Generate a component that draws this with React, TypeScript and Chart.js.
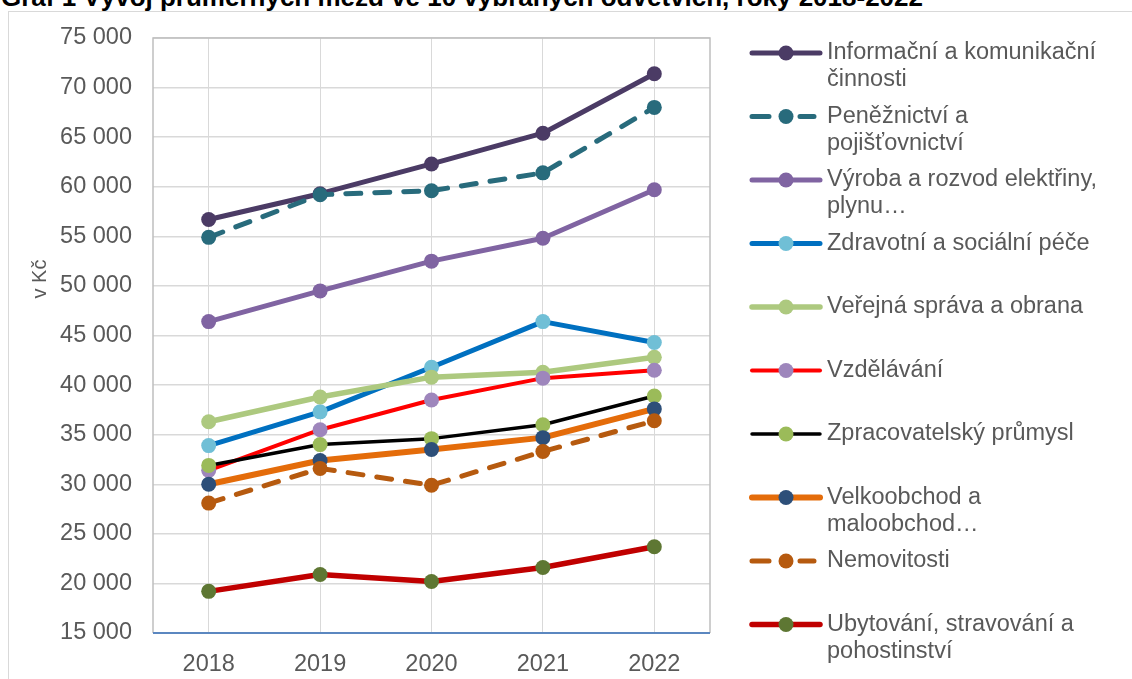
import React, { useEffect, useRef } from "react";
import { Chart, registerables } from "chart.js";

Chart.register(...registerables);

// ---------- data ----------
const years = ["2018", "2019", "2020", "2021", "2022"];

const infoKomunikace = [56700, 59300, 62300, 65400, 71400];
const penezniPojist = [54900, 59200, 59600, 61400, 68000];
const vyrobaEnergie = [46400, 49500, 52500, 54800, 59700];
const zdravotniPece = [33900, 37300, 41800, 46400, 44300];
const verejnaSprava = [36300, 38800, 40800, 41300, 42800];
const vzdelavani = [31400, 35500, 38500, 40700, 41500];
const zpracovatelsky = [31900, 34000, 34600, 36000, 38900];
const velkoobchod = [30000, 32400, 33500, 34700, 37600];
const nemovitosti = [28100, 31600, 29900, 33300, 36400];
const ubytovani = [19200, 20900, 20200, 21600, 23700];

const seriesNames: string[][] = [
  ["Informační a komunikační", "činnosti"],
  ["Peněžnictví a", "pojišťovnictví"],
  ["Výroba a rozvod elektřiny,", "plynu…"],
  ["Zdravotní a sociální péče"],
  ["Veřejná správa a obrana"],
  ["Vzdělávání"],
  ["Zpracovatelský průmysl"],
  ["Velkoobchod a", "maloobchod…"],
  ["Nemovitosti"],
  ["Ubytování, stravování a", "pohostinství"],
];

const seriesValues = [
  infoKomunikace,
  penezniPojist,
  vyrobaEnergie,
  zdravotniPece,
  verejnaSprava,
  vzdelavani,
  zpracovatelsky,
  velkoobchod,
  nemovitosti,
  ubytovani,
];

const yMin = 15000;
const yMax = 75000;
const yStep = 5000;

const chartTitle = "Graf 1 Vývoj průměrných mezd ve 10 vybraných odvětvích, roky 2018-2022";
const yAxisTitle = "v Kč";

// ---------- styles ----------
const lineColors = ["#4B3B65", "#286B7C", "#8064A2", "#0070C0", "#ADC97F", "#FF0000", "#000000", "#E46C0A", "#B65A0F", "#C00000"];
const markerColors = ["#4B3B65", "#286B7C", "#8064A2", "#70BFD6", "#ADC97F", "#9E86BC", "#9BBB59", "#2D4F79", "#B65A0F", "#5E7733"];
const lineWidths = [5, 5, 5, 5, 5.5, 4, 3.5, 6, 5, 5.5];
const dashed = [false, true, false, false, false, false, false, false, true, false];

const FONT = '"Liberation Sans", Arial, sans-serif';
const TEXT = "#595959";

const formatThousands = (v: number) => String(v).replace(/\B(?=(\d{3})+(?!\d))/g, " ");

const decorPlugin = {
  id: "decor",
  beforeDatasetsDraw(chart: any) {
    const { ctx, chartArea: a } = chart;
    ctx.save();
    ctx.strokeStyle = "#BFBFBF";
    ctx.lineWidth = 1.5;
    ctx.beginPath();
    ctx.moveTo(a.left, a.bottom);
    ctx.lineTo(a.left, a.top);
    ctx.lineTo(a.right, a.top);
    ctx.lineTo(a.right, a.bottom);
    ctx.stroke();
    ctx.strokeStyle = "#5B87C0";
    ctx.lineWidth = 2;
    ctx.beginPath();
    ctx.moveTo(a.left, a.bottom);
    ctx.lineTo(a.right, a.bottom);
    ctx.stroke();
    ctx.restore();
  },
  afterDraw(chart: any) {
    const { ctx } = chart;
    ctx.save();
    ctx.translate(40, 279);
    ctx.rotate(-Math.PI / 2);
    ctx.fillStyle = TEXT;
    ctx.font = `20px ${FONT}`;
    ctx.textAlign = "center";
    ctx.textBaseline = "middle";
    ctx.fillText(yAxisTitle, 0, 0);
    ctx.restore();

    const legendTop = 53;
    const legendStep = 63.5;
    const lineH = 27;
    chart.data.datasets.forEach((ds: any, i: number) => {
      const cy = legendTop + i * legendStep;
      ctx.save();
      ctx.strokeStyle = ds.borderColor;
      ctx.lineWidth = ds.borderWidth;
      ctx.lineCap = "round";
      ctx.beginPath();
      if (ds.borderDash && ds.borderDash.length) {
        ctx.moveTo(752, cy);
        ctx.lineTo(769, cy);
        ctx.moveTo(800, cy);
        ctx.lineTo(814, cy);
      } else {
        ctx.moveTo(752, cy);
        ctx.lineTo(820, cy);
      }
      ctx.stroke();
      ctx.fillStyle = ds.pointBackgroundColor;
      ctx.beginPath();
      ctx.arc(786, cy, 7.5, 0, Math.PI * 2);
      ctx.fill();
      ctx.fillStyle = TEXT;
      ctx.font = `23.5px ${FONT}`;
      ctx.textAlign = "left";
      ctx.textBaseline = "middle";
      seriesNames[i].forEach((t, k) => ctx.fillText(t, 827, cy + k * lineH));
      ctx.restore();
    });
  },
};

export default function App() {
  const canvasRef = useRef<HTMLCanvasElement | null>(null);

  useEffect(() => {
    if (!canvasRef.current) return;
    const datasets = seriesValues.map((vals, i) => ({
      label: seriesNames[i].join(" "),
      data: vals,
      borderColor: lineColors[i],
      backgroundColor: markerColors[i],
      pointBackgroundColor: markerColors[i],
      pointBorderColor: markerColors[i],
      pointBorderWidth: 0,
      pointRadius: 7.5,
      pointHoverRadius: 7.5,
      borderWidth: lineWidths[i],
      borderDash: dashed[i] ? [15, 14] : [],
      borderCapStyle: "round" as const,
      borderJoinStyle: "round" as const,
      tension: 0,
      fill: false,
      order: seriesValues.length - i,
    }));

    const chart = new Chart(canvasRef.current, {
      type: "line",
      data: { labels: years, datasets },
      options: {
        responsive: false,
        animation: false,
        devicePixelRatio: 1,
        layout: { padding: { left: 0, top: 38, right: 422, bottom: 0 } },
        plugins: {
          legend: { display: false },
          title: { display: false },
          tooltip: { enabled: false },
        },
        scales: {
          x: {
            type: "category",
            offset: true,
            grid: { offset: false, color: "#D9D9D9", lineWidth: 1, drawTicks: false },
            border: { display: false },
            ticks: { color: TEXT, font: { family: FONT, size: 23.5 }, padding: 17 },
            afterFit(scale: any) {
              scale.height = 46;
            },
          },
          y: {
            min: yMin,
            max: yMax,
            grid: { color: "#D9D9D9", lineWidth: 1.5, drawTicks: false },
            border: { display: false },
            ticks: {
              stepSize: yStep,
              color: TEXT,
              font: { family: FONT, size: 23.5 },
              padding: 21,
              callback: (v: any) => formatThousands(Number(v)),
            },
            afterFit(scale: any) {
              scale.width = 153;
            },
          },
        },
      },
      plugins: [decorPlugin],
    });
    return () => chart.destroy();
  }, []);

  return (
    <div
      style={{
        position: "fixed",
        left: 0,
        top: 0,
        width: 1132,
        height: 679,
        overflow: "hidden",
        background: "#fff",
      }}
    >
      <div
        style={{
          position: "absolute",
          left: 8,
          top: 11,
          width: 2000,
          height: 2000,
          borderTop: "1.5px solid #D9D9D9",
          borderLeft: "1.5px solid #D9D9D9",
        }}
      />
      <div
        style={{
          position: "absolute",
          left: 1,
          top: -16,
          whiteSpace: "nowrap",
          font: `bold 26px ${FONT}`,
          lineHeight: "26px",
          color: "#000",
        }}
      >
        {chartTitle}
      </div>
      <canvas
        ref={canvasRef}
        width={1132}
        height={679}
        style={{ position: "absolute", left: 0, top: 0, width: 1132, height: 679 }}
      />
    </div>
  );
}
